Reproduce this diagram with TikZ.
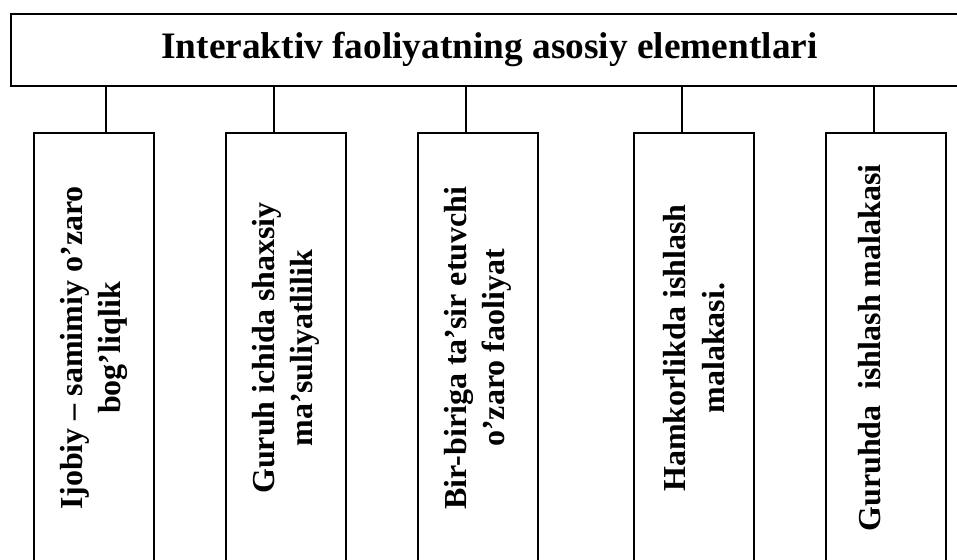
\documentclass[tikz,border=0pt]{standalone}
\usepackage{fontspec}
\setmainfont{Liberation Serif}
\begin{document}
\begin{tikzpicture}[x=0.75pt,y=-0.75pt,
  line width=1.4pt,
  titlebox/.style={draw,rectangle,inner sep=0pt,minimum width=716.25pt,minimum height=54pt,anchor=north west},
  vbox/.style={draw,rectangle,inner sep=0pt,minimum width=90pt,minimum height=322.5pt},
  vtext/.style={rotate=90,align=center,inner sep=0pt,font=\fontsize{24}{29}\selectfont\bfseries},
  conn/.style={line width=1.4pt}]
\useasboundingbox (0,0) rectangle (957,560);
\node[titlebox] (top) at (10,13) {};
\node[font=\fontsize{28}{34}\selectfont\bfseries] (title) at (489.5,49) {Interaktiv faoliyatning asosiy elementlari};
\node[vbox] (b1) at (94,348) {};
\node[vbox] (b2) at (286,348) {};
\node[vbox] (b3) at (478,348) {};
\node[vbox] (b4) at (694,348) {};
\node[vbox] (b5) at (886,348) {};
\node[vtext] (t1) at (b1.center) {Ijobiy – samimiy o’zaro\\bog’liqlik};
\node[vtext] (t2) at (b2.center) {Guruh ichida shaxsiy\\ma’suliyatlilik};
\node[vtext] (t3) at (b3.center) {Bir-biriga ta’sir etuvchi\\o’zaro faoliyat};
\node[vtext] (t4) at (b4.center) {Hamkorlikda ishlash\\malakasi.};
\node[vtext] (t5) at ([xshift=-12pt]b5.center) {Guruhda\ \ ishlash malakasi};
\draw[conn] ([xshift=9pt]b1.north) -- ([xshift=9pt]b1.north |- top.south);
\draw[conn] ([xshift=-9pt]b2.north) -- ([xshift=-9pt]b2.north |- top.south);
\draw[conn] ([xshift=-9pt]b3.north) -- ([xshift=-9pt]b3.north |- top.south);
\draw[conn] ([xshift=-9pt]b4.north) -- ([xshift=-9pt]b4.north |- top.south);
\draw[conn] ([xshift=-9pt]b5.north) -- ([xshift=-9pt]b5.north |- top.south);
\end{tikzpicture}
\end{document}
